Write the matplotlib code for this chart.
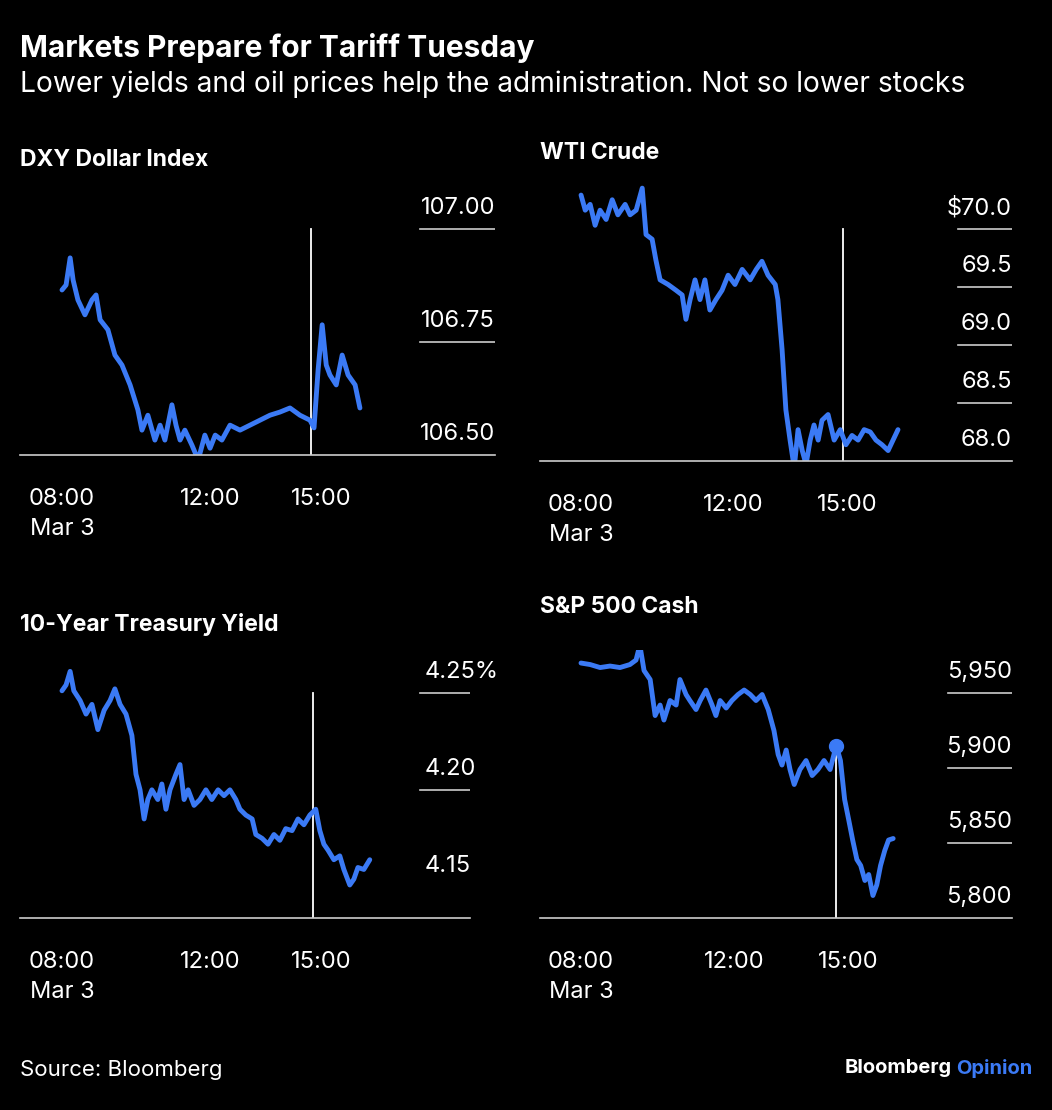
import matplotlib.pyplot as plt
import matplotlib.transforms as mtrans

plt.rcParams['font.family'] = ['Inter', 'DejaVu Sans']

BLUE = '#3b7af5'
W, H = 1052, 1110

# DXY Dollar Index
dxy_t = [8.00, 8.11, 8.22, 8.30, 8.43, 8.62, 8.81, 8.92, 9.03, 9.24, 9.43, 9.62, 9.84, 10.05, 10.16, 10.32,
         10.51, 10.65, 10.78, 10.97, 11.08, 11.19, 11.32, 11.51, 11.68, 11.86, 12.00, 12.14, 12.32, 12.54,
         12.81, 13.08, 13.35, 13.62, 13.89, 14.16, 14.43, 14.70, 14.81, 14.92, 15.03, 15.14, 15.24, 15.41,
         15.57, 15.73, 15.92, 16.05]
dxy_v = [106.865, 106.876, 106.936, 106.887, 106.843, 106.810, 106.843, 106.854, 106.799, 106.777, 106.721,
         106.699, 106.655, 106.600, 106.555, 106.588, 106.533, 106.566, 106.533, 106.611, 106.566, 106.533,
         106.555, 106.522, 106.489, 106.544, 106.515, 106.544, 106.533, 106.566, 106.555, 106.566, 106.577,
         106.588, 106.595, 106.604, 106.588, 106.577, 106.560, 106.688, 106.788, 106.699, 106.677, 106.655,
         106.721, 106.677, 106.655, 106.604]

# WTI Crude
wti_t = [8.00, 8.11, 8.24, 8.37, 8.50, 8.66, 8.82, 8.97, 9.16, 9.29, 9.45, 9.61, 9.71, 9.87, 9.97, 10.08,
         10.29, 10.50, 10.66, 10.76, 10.87, 11.00, 11.13, 11.26, 11.39, 11.55, 11.71, 11.87, 12.05, 12.24,
         12.45, 12.61, 12.76, 12.92, 13.11, 13.18, 13.29, 13.39, 13.50, 13.61, 13.71, 13.82, 13.92, 14.03,
         14.13, 14.24, 14.34, 14.50, 14.66, 14.82, 14.97, 15.13, 15.29, 15.45, 15.61, 15.76, 15.92, 16.08,
         16.21, 16.34]
wti_v = [70.29, 70.16, 70.21, 70.03, 70.16, 70.08, 70.25, 70.12, 70.21, 70.12, 70.16, 70.35, 69.95, 69.91,
         69.73, 69.56, 69.52, 69.47, 69.43, 69.22, 69.39, 69.56, 69.39, 69.56, 69.30, 69.39, 69.47, 69.60,
         69.52, 69.65, 69.56, 69.65, 69.72, 69.60, 69.52, 69.39, 68.96, 68.44, 68.18, 67.94, 68.27, 68.09,
         67.97, 68.18, 68.31, 68.18, 68.35, 68.40, 68.18, 68.27, 68.14, 68.22, 68.18, 68.27, 68.25, 68.18,
         68.14, 68.09, 68.18, 68.27]

# 10-Year Treasury Yield
ust_t = [8.00, 8.11, 8.22, 8.32, 8.49, 8.65, 8.81, 8.97, 9.14, 9.30, 9.43, 9.57, 9.73, 9.89, 10.00, 10.11,
         10.22, 10.32, 10.43, 10.59, 10.70, 10.81, 10.92, 11.08, 11.19, 11.30, 11.41, 11.57, 11.73, 11.89,
         12.05, 12.22, 12.38, 12.54, 12.70, 12.81, 12.97, 13.14, 13.24, 13.41, 13.57, 13.73, 13.89, 14.05,
         14.22, 14.38, 14.54, 14.70, 14.86, 14.97, 15.08, 15.19, 15.35, 15.51, 15.62, 15.78, 15.89, 16.00,
         16.16, 16.32]
ust_v = [4.251, 4.254, 4.261, 4.251, 4.246, 4.239, 4.244, 4.231, 4.241, 4.246, 4.252, 4.244, 4.239, 4.228,
         4.208, 4.200, 4.185, 4.195, 4.200, 4.195, 4.203, 4.190, 4.200, 4.208, 4.213, 4.195, 4.200, 4.192,
         4.195, 4.200, 4.195, 4.200, 4.197, 4.200, 4.195, 4.190, 4.187, 4.185, 4.177, 4.175, 4.172, 4.177,
         4.174, 4.180, 4.179, 4.185, 4.182, 4.187, 4.190, 4.179, 4.172, 4.169, 4.164, 4.166, 4.159, 4.151,
         4.154, 4.160, 4.159, 4.164]

# S&P 500 Cash
spx_t = [8.00, 8.24, 8.50, 8.76, 9.02, 9.28, 9.44, 9.54, 9.65, 9.81, 9.94, 10.07, 10.17, 10.33, 10.49, 10.59,
         10.75, 10.85, 11.01, 11.12, 11.27, 11.43, 11.53, 11.64, 11.80, 11.95, 12.11, 12.27, 12.43, 12.58,
         12.74, 12.90, 13.05, 13.16, 13.26, 13.37, 13.47, 13.58, 13.73, 13.89, 14.05, 14.20, 14.36, 14.52,
         14.68, 14.79, 14.90, 15.01, 15.11, 15.22, 15.32, 15.43, 15.53, 15.64, 15.74, 15.84, 15.95, 16.05,
         16.17]
spx_v = [5970, 5969, 5967, 5968, 5967, 5969, 5972, 5982, 5965, 5959, 5935, 5942, 5932, 5945, 5942, 5959,
         5949, 5945, 5939, 5945, 5952, 5942, 5935, 5945, 5940, 5945, 5949, 5952, 5949, 5945, 5949, 5939,
         5925, 5909, 5902, 5912, 5899, 5889, 5899, 5905, 5895, 5899, 5905, 5899, 5915, 5905, 5879, 5865,
         5852, 5839, 5835, 5825, 5829, 5815, 5822, 5835, 5845, 5852, 5853]

xticks = [8, 12, 15]
xticklabels = ['08:00\nMar 3', '12:00', '15:00']


def panel(fig, box, xlim, ylim, t, v, title, title_y, levels, labels, grid_px, vline,
          label_left=None, dot=None, nogrid=()):
    x0, y0, x1, y1 = box
    ax = fig.add_axes([x0 / W, 1 - y1 / H, (x1 - x0) / W, (y1 - y0) / H])
    ax.set_facecolor('black')
    ax.set_xlim(*xlim)
    ax.set_ylim(*ylim)
    for s in ['top', 'left', 'right']:
        ax.spines[s].set_visible(False)
    ax.spines['bottom'].set_color('#cccccc')
    ax.spines['bottom'].set_linewidth(1.2)
    ax.set_yticks([])
    ax.set_xticks(xticks)
    ax.set_xticklabels(xticklabels, color='white', fontsize=17, linespacing=1.45, va='top')
    ax.tick_params(axis='x', length=0, pad=24)
    gx = (grid_px - x0) / (x1 - x0)
    tr = mtrans.blended_transform_factory(ax.transAxes, ax.transData)
    off = mtrans.offset_copy(tr, fig=fig, x=0, y=7, units='points')
    for lv, lb in zip(levels, labels):
        if lv != ylim[0] and lv not in nogrid:
            ax.axhline(lv, xmin=gx, xmax=1, color='#cccccc', lw=1.2)
        if label_left:
            ax.text(gx + 0.01, lv, lb, transform=off, ha='left', va='bottom', color='white', fontsize=17)
        else:
            ax.text(1, lv, lb, transform=off, ha='right', va='bottom', color='white', fontsize=17)
    ax.plot([vline[0], vline[0]], [ylim[0], vline[1]], color='white', lw=1.3)
    ax.plot(t, v, color=BLUE, lw=3.5, solid_joinstyle='round', solid_capstyle='round')
    if dot is not None:
        ax.plot([dot[0]], [dot[1]], 'o', color=BLUE, ms=10)
    fig.text(x0 / W, 1 - title_y / H, title, color='white', fontsize=16.5, fontweight='bold', va='center')
    return ax


fig = plt.figure(figsize=(W / 100, H / 100), dpi=100, facecolor='black')

fig.text(20 / W, 1 - 48 / H, 'Markets Prepare for Tariff Tuesday', color='white', fontsize=21.5,
         fontweight='bold', va='center')
fig.text(20 / W, 1 - 84 / H, 'Lower yields and oil prices help the administration. Not so lower stocks',
         color='white', fontsize=20.3, va='center')

panel(fig, (20, 200, 495, 455), (6.865, 19.70), (106.5, 107.064), dxy_t, dxy_v, 'DXY Dollar Index', 160,
      [106.5, 106.75, 107.0], ['106.50', '106.75', '107.00'], 420, (14.73, 107.0))
panel(fig, (540, 180, 1012, 461), (6.92, 19.34), (68.0, 70.42), wti_t, wti_v, 'WTI Crude', 153,
      [68.0, 68.5, 69.0, 69.5, 70.0], ['68.0', '68.5', '69.0', '69.5', '$70.0'], 958, (14.9, 70.0))
panel(fig, (20, 650, 470, 918), (6.865, 19.03), (4.134, 4.272), ust_t, ust_v, '10-Year Treasury Yield', 625,
      [4.15, 4.20, 4.25], ['4.15', '4.20', '4.25%'], 420, (14.78, 4.25), label_left=True, nogrid=(4.15,))
panel(fig, (540, 650, 1012, 918), (6.927, 19.28), (5800, 5978.7), spx_t, spx_v, 'S&P 500 Cash', 607,
      [5800, 5850, 5900, 5950], ['5,800', '5,850', '5,900', '5,950'], 948, (14.68, 5915), dot=(14.68, 5915))

fig.text(20 / W, 1 - 1070 / H, 'Source: Bloomberg', color='white', fontsize=16, va='center')
t1 = fig.text(1032 / W, 1 - 1068 / H, 'Opinion', color=BLUE, fontsize=14.5, fontweight='bold',
              va='center', ha='right')
fig.canvas.draw()
bb = t1.get_window_extent()
fig.text(bb.x0 / W - 0.004, 1 - 1068 / H, 'Bloomberg', color='white', fontsize=14.5, fontweight='bold',
         va='center', ha='right')

fig.savefig('out.png', dpi=100, facecolor='black')
